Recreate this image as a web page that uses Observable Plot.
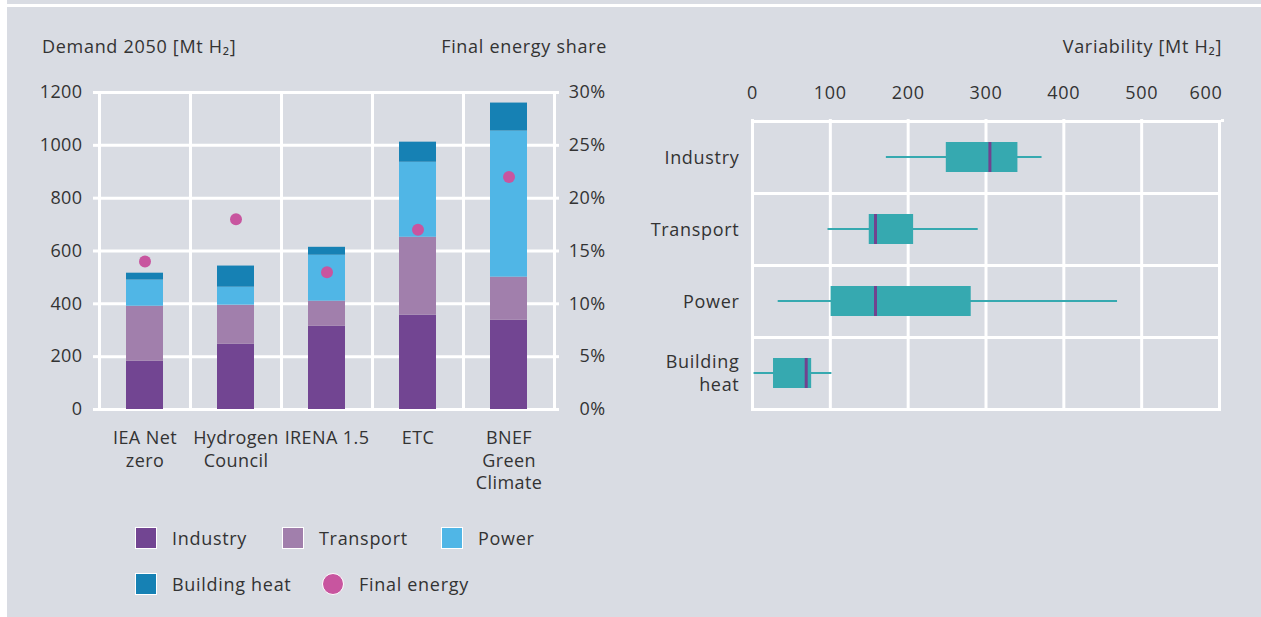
<!DOCTYPE html>
<html><head><meta charset="utf-8">
<script src="https://cdn.jsdelivr.net/npm/d3@7"></script>
<script src="https://cdn.jsdelivr.net/npm/@observablehq/plot@0.6"></script>
<style>
html,body{margin:0;padding:0;background:#fff;}
body{font-family:"Open Sans","DejaVu Sans",sans-serif;color:#333;width:1261px;height:617px;position:relative;overflow:hidden;}
#panel{position:absolute;left:7px;top:0;width:1254px;height:617px;background:#d9dce3;}
#stripe{position:absolute;left:7px;top:4px;width:1254px;height:3px;background:#fff;}
.t{position:absolute;font-size:18px;letter-spacing:0.7px;white-space:nowrap;line-height:20px;color:#333;}
.chart{position:absolute;top:0;}
.chart svg{overflow:visible;}
.sw{position:absolute;width:20px;height:20px;border:1.5px solid #fff;box-sizing:content-box;}
.circ{position:absolute;width:20px;height:20px;border:1.5px solid #fff;border-radius:50%;}
</style></head>
<body>
<div id="panel"></div>
<div id="stripe"></div>
<div class="t" style="left:42px;top:36px;">Demand 2050 [Mt H₂]</div>
<div class="t" style="right:654px;top:36px;">Final energy share</div>
<div class="t" style="right:39px;top:36px;">Variability [Mt H₂]</div>
<div id="left" class="chart" style="left:0"></div>
<div id="right" class="chart" style="left:620px"></div>
<div id="legend"></div>
<script>
// ---- Left chart data ----
const scenarios = ["IEA Net zero", "Hydrogen Council", "IRENA 1.5", "ETC", "BNEF Green Climate"];
const scenarioLabels = ["IEA Net\nzero", "Hydrogen\nCouncil", "IRENA 1.5", "ETC", "BNEF\nGreen\nClimate"];
const sectors = ["Industry", "Transport", "Power", "Building heat"];
const industry = [183, 247, 315, 357, 338];
const transport = [208, 148, 95, 295, 163];
const power = [99, 68, 174, 284, 553];
const buildingHeat = [26, 80, 30, 76, 106];
const finalEnergyShare = [14, 18, 13, 17, 22]; // percent
const demandTicks = [0, 200, 400, 600, 800, 1000, 1200];
const shareTicks = [0, 5, 10, 15, 20, 25, 30];
const demandMax = 1200, shareMax = 30;

// ---- Right chart data ----
const boxSectors = ["Industry", "Transport", "Power", "Building heat"];
const boxLabels = ["Industry", "Transport", "Power", "Building\nheat"];
const boxMin = [172, 97, 33, 2];
const boxQ1 = [249, 150, 101, 27];
const boxMedian = [305, 158, 158, 69];
const boxQ3 = [341, 207, 281, 76];
const boxMax = [372, 290, 469, 102];
const variabilityTicks = [0, 100, 200, 300, 400, 500, 600];

// ---- Colours ----
const sectorColors = ["#724592", "#a17fac", "#50b6e6", "#1681b4"];
const dotColor = "#c8559f";
const boxColor = "#36a9b0";
const medianColor = "#71428f";
const textColor = "#333333";
const font = "'Open Sans', 'DejaVu Sans', sans-serif";

const seriesBySector = [industry, transport, power, buildingHeat];
const stacked = scenarios.flatMap((s, i) => sectors.map((k, j) => ({scenario: s, sector: k, value: seriesBySector[j][i]})));
const shares = scenarios.map((s, i) => ({scenario: s, share: finalEnergyShare[i]}));

const svgStyle = {fontFamily: font, fontSize: "18px", color: textColor, background: "transparent", overflow: "visible", maxWidth: "none"};

const left = Plot.plot({
  width: 620, height: 500,
  marginTop: 92, marginLeft: 99, marginRight: 66, marginBottom: 91,
  style: {...svgStyle, letterSpacing: "0.4px"},
  fx: {domain: scenarios, padding: 0, label: null},
  y: {domain: [0, demandMax], label: null},
  color: {domain: sectors, range: sectorColors},
  marks: [
    Plot.gridY(demandTicks, {stroke: "#fff", strokeOpacity: 1, strokeWidth: 3}),
    Plot.frame({stroke: "#fff", strokeWidth: 3}),
    Plot.barY(stacked, {fx: "scenario", y: "value", fill: "sector", insetLeft: 27, insetRight: 27}),
    Plot.dot(shares, {fx: "scenario", y: d => d.share * demandMax / shareMax, r: 6, fill: dotColor}),
    Plot.axisY(demandTicks, {anchor: "left", tickSize: 6, tickPadding: 11, stroke: "#fff", strokeWidth: 3, fill: textColor,
      tickFormat: d => String(d), label: null}),
    Plot.axisY(shareTicks.map(v => v * demandMax / shareMax), {anchor: "right", tickSize: 4, tickPadding: 47, textAnchor: "end",
      tickFormat: d => Math.round(d * shareMax / demandMax) + "%", stroke: "#fff", strokeWidth: 3, fill: textColor, label: null}),
    Plot.axisFx({anchor: "bottom", tickSize: 0, tickPadding: 19, lineHeight: 1.25, fill: textColor,
      tickFormat: d => scenarioLabels[scenarios.indexOf(d)], label: null})
  ]
});
document.getElementById("left").appendChild(left);

const boxes = boxSectors.map((s, i) => ({sector: s, min: boxMin[i], q1: boxQ1[i], median: boxMedian[i], q3: boxQ3[i], max: boxMax[i]}));
const right = Plot.plot({
  width: 641, height: 420,
  marginTop: 120, marginLeft: 132, marginRight: 42, marginBottom: 10,
  style: {...svgStyle, letterSpacing: "0.7px"},
  x: {domain: [0, 600], label: null},
  fy: {domain: boxSectors, padding: 0, label: null},
  marks: [
    Plot.gridX(variabilityTicks, {stroke: "#fff", strokeOpacity: 1, strokeWidth: 3}),
    Plot.frame({stroke: "#fff", strokeWidth: 3}),
    Plot.barX(boxes, {fy: "sector", x1: "min", x2: "max", fill: boxColor, insetTop: 35, insetBottom: 35}),
    Plot.barX(boxes, {fy: "sector", x1: "q1", x2: "q3", fill: boxColor, insetTop: 21, insetBottom: 21}),
    Plot.tickX(boxes, {fy: "sector", x: "median", stroke: medianColor, strokeWidth: 3, insetTop: 21, insetBottom: 21}),
    Plot.axisX(variabilityTicks.slice(0, -1), {anchor: "top", tickSize: 3, tickPadding: 20, stroke: "#fff", strokeWidth: 3, fill: textColor, label: null}),
    Plot.axisX(variabilityTicks.slice(-1), {anchor: "top", tickSize: 3, tickPadding: 20, textAnchor: "end", dx: 3, stroke: "#fff", strokeWidth: 3, fill: textColor, label: null}),
    Plot.axisFy({anchor: "left", tickSize: 0, tickPadding: 13, lineHeight: 1.28, dy: -1, fill: textColor,
      tickFormat: d => boxLabels[boxSectors.indexOf(d)], label: null})
  ]
});
document.getElementById("right").appendChild(right);

// ---- Legend (HTML, below chart) ----
const legend = document.getElementById("legend");
const legendItems = [
  {label: "Industry", color: sectorColors[0], shape: "sw", x: 135, y: 538},
  {label: "Transport", color: sectorColors[1], shape: "sw", x: 282, y: 538},
  {label: "Power", color: sectorColors[2], shape: "sw", x: 441, y: 538},
  {label: "Building heat", color: sectorColors[3], shape: "sw", x: 135, y: 584},
  {label: "Final energy", color: dotColor, shape: "circ", x: 322, y: 584}
];
legendItems.forEach(it => {
  const s = document.createElement("div");
  s.className = it.shape;
  s.style.left = it.x + "px";
  s.style.top = (it.y - 11.5) + "px";
  s.style.background = it.color;
  legend.appendChild(s);
  const t = document.createElement("div");
  t.className = "t";
  t.textContent = it.label;
  t.style.left = (it.x + 37) + "px";
  t.style.top = (it.y - 10) + "px";
  legend.appendChild(t);
});
</script>
</body></html>
